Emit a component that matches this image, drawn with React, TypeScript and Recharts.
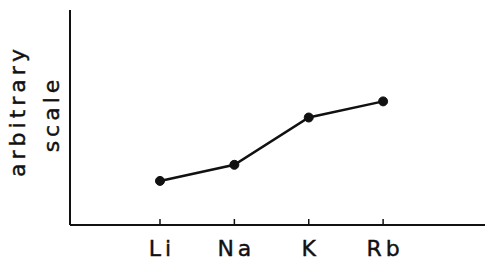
import { LineChart, Line, XAxis, YAxis } from 'recharts';

const elements = ['Li', 'Na', 'K', 'Rb'];
const positions = [0, 1, 2, 3];
const values = [2.05, 2.8, 5.0, 5.75];

const data = elements.map((name, i) => ({ x: positions[i], name, value: values[i] }));

const font = '"DejaVu Sans", sans-serif';

function ElementTick(props: any) {
  const { x, y, payload } = props;
  return (
    <g>
      <line x1={x} x2={x} y1={y - 6} y2={y} stroke="#111" strokeWidth={1.5} />
      <text x={x + 2} y={y + 31} textAnchor="middle" fontSize={22} fontFamily={font} fill="#111" stroke="#111" strokeWidth={0.4} letterSpacing={4}>
        {elements[payload.value]}
      </text>
    </g>
  );
}

export default function App() {
  return (
    <div style={{ position: 'absolute', left: 0, top: 0, width: 485, height: 261, background: '#fff' }}>
      <LineChart width={485} height={261} data={data} margin={{ top: 10, right: 0, bottom: 0, left: 0 }}>
        <XAxis
          type="number"
          dataKey="x"
          domain={[-1.21, 4.37]}
          ticks={positions}
          tick={<ElementTick />}
          tickLine={false}
          tickSize={0}
          tickMargin={0}
          height={36}
          axisLine={{ stroke: '#111', strokeWidth: 2 }}
          allowDataOverflow
        />
        <YAxis
          type="number"
          domain={[0, 10]}
          width={70}
          tick={false}
          tickLine={false}
          axisLine={{ stroke: '#111', strokeWidth: 2 }}
        />
        <Line
          dataKey="value"
          stroke="#111"
          strokeWidth={2.5}
          dot={{ r: 4.5, fill: '#111', stroke: '#111', strokeWidth: 1 }}
          isAnimationActive={false}
        />
        <text x={17} y={111} transform="rotate(-90 17 111)" textAnchor="middle" dominantBaseline="central" fontSize={22} fontFamily={font} fill="#111" stroke="#111" strokeWidth={0.4} letterSpacing={4}>
          arbitrary
        </text>
        <text x={51} y={114} transform="rotate(-90 51 114)" textAnchor="middle" dominantBaseline="central" fontSize={22} fontFamily={font} fill="#111" stroke="#111" strokeWidth={0.4} letterSpacing={4}>
          scale
        </text>
      </LineChart>
    </div>
  );
}
